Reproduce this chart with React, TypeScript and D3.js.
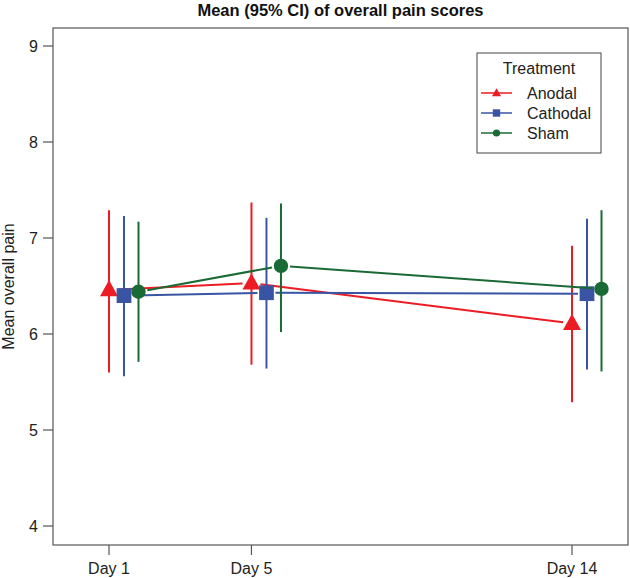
import React from "react";
import * as d3 from "d3";

const days = [1, 5, 14];
const dayLabels = ["Day 1", "Day 5", "Day 14"];
const yTicks = [4, 5, 6, 7, 8, 9];

const seriesNames = ["Anodal", "Cathodal", "Sham"];
const anodalMean = [6.46, 6.53, 6.11];
const anodalLow = [5.6, 5.68, 5.29];
const anodalHigh = [7.29, 7.37, 6.92];
const cathodalMean = [6.4, 6.43, 6.42];
const cathodalLow = [5.56, 5.64, 5.63];
const cathodalHigh = [7.23, 7.21, 7.2];
const shamMean = [6.44, 6.71, 6.47];
const shamLow = [5.71, 6.02, 5.61];
const shamHigh = [7.17, 7.36, 7.29];

const W = 630;
const H = 578;
const L = 53, R = 628, T = 28, B = 545;

const colors = ["#ec1c24", "#3a54a4", "#1a6a35"];
const dodge = [0, 15, 29.5];
const shapes = ["triangle", "square", "circle"];

const x = d3.scaleLinear().domain([1, 14]).range([109, 572]);
const y = d3.scaleLinear().domain([4, 9]).range([526, 46]);

const FONT = "Liberation Sans, Arial, Helvetica, sans-serif";

function Marker({ shape, cx, cy, size, color }: any) {
  if (shape === "triangle") {
    const h = size * 0.9;
    const w = size;
    const p = `${cx},${cy - h * 0.6} ${cx - w / 2},${cy + h * 0.4} ${cx + w / 2},${cy + h * 0.4}`;
    return <polygon points={p} fill={color} />;
  }
  if (shape === "square") {
    const s = size * 0.82;
    return <rect x={cx - s / 2} y={cy - s / 2} width={s} height={s} fill={color} />;
  }
  return <circle cx={cx} cy={cy} r={size * 0.4} fill={color} />;
}

export default function App() {
  const series = [
    { mean: anodalMean, lo: anodalLow, hi: anodalHigh },
    { mean: cathodalMean, lo: cathodalLow, hi: cathodalHigh },
    { mean: shamMean, lo: shamLow, hi: shamHigh },
  ];
  const gap = 9;
  return (
    <svg width={W} height={H} style={{ position: "absolute", left: 0, top: 0 }} fontFamily={FONT}>
      <rect x={0} y={0} width={W} height={H} fill="#fff" />
      <text x={340.5} y={16} textAnchor="middle" fontSize={16.5} fontWeight="bold" fill="#111">
        Mean (95% CI) of overall pain scores
      </text>
      <rect x={L} y={T} width={R - L} height={B - T} fill="none" stroke="#555" strokeWidth={1.2} />
      {yTicks.map((t) => (
        <g key={t}>
          <line x1={L - 10} x2={L} y1={y(t)} y2={y(t)} stroke="#555" strokeWidth={1.2} />
          <text x={38} y={y(t)} dy="0.36em" textAnchor="end" fontSize={16} fill="#222">
            {t}
          </text>
        </g>
      ))}
      {days.map((d, i) => (
        <g key={d}>
          <line x1={x(d)} x2={x(d)} y1={B} y2={B + 10} stroke="#555" strokeWidth={1.2} />
          <text x={x(d)} y={574} textAnchor="middle" fontSize={16} fill="#222">
            {dayLabels[i]}
          </text>
        </g>
      ))}
      <text
        transform={`translate(13.5,${(T + B) / 2}) rotate(-90)`}
        textAnchor="middle"
        fontSize={16}
        fill="#222"
      >
        Mean overall pain
      </text>
      {series.map((s, si) => {
        const pts = days.map((d, i) => [x(d) + dodge[si], y(s.mean[i])]);
        return (
          <g key={si}>
            {days.map((d, i) => (
              <line
                key={"e" + i}
                x1={x(d) + dodge[si]}
                x2={x(d) + dodge[si]}
                y1={y(s.lo[i])}
                y2={y(s.hi[i])}
                stroke={colors[si]}
                strokeWidth={2}
              />
            ))}
            {pts.slice(1).map((p, i) => {
              const p0 = pts[i];
              const dx = p[0] - p0[0];
              const dy = p[1] - p0[1];
              const len = Math.hypot(dx, dy);
              const ux = dx / len, uy = dy / len;
              return (
                <line
                  key={"l" + i}
                  x1={p0[0] + ux * gap}
                  y1={p0[1] + uy * gap}
                  x2={p[0] - ux * gap}
                  y2={p[1] - uy * gap}
                  stroke={colors[si]}
                  strokeWidth={2}
                />
              );
            })}
            {pts.map((p, i) => (
              <Marker key={"m" + i} shape={shapes[si]} cx={p[0]} cy={p[1]} size={18} color={colors[si]} />
            ))}
          </g>
        );
      })}
      <g>
        <rect x={477} y={53} width={124} height={100} fill="#fff" stroke="#444" strokeWidth={1} />
        <text x={539} y={74} textAnchor="middle" fontSize={16} fill="#222">
          Treatment
        </text>
        {seriesNames.map((n, i) => {
          const cy = 93 + i * 20;
          return (
            <g key={n}>
              <line x1={481} x2={512} y1={cy} y2={cy} stroke={colors[i]} strokeWidth={1.5} />
              <Marker shape={shapes[i]} cx={496.5} cy={cy} size={9} color={colors[i]} />
              <text x={527} y={cy} dy="0.36em" fontSize={16} fill="#222">
                {n}
              </text>
            </g>
          );
        })}
      </g>
    </svg>
  );
}
